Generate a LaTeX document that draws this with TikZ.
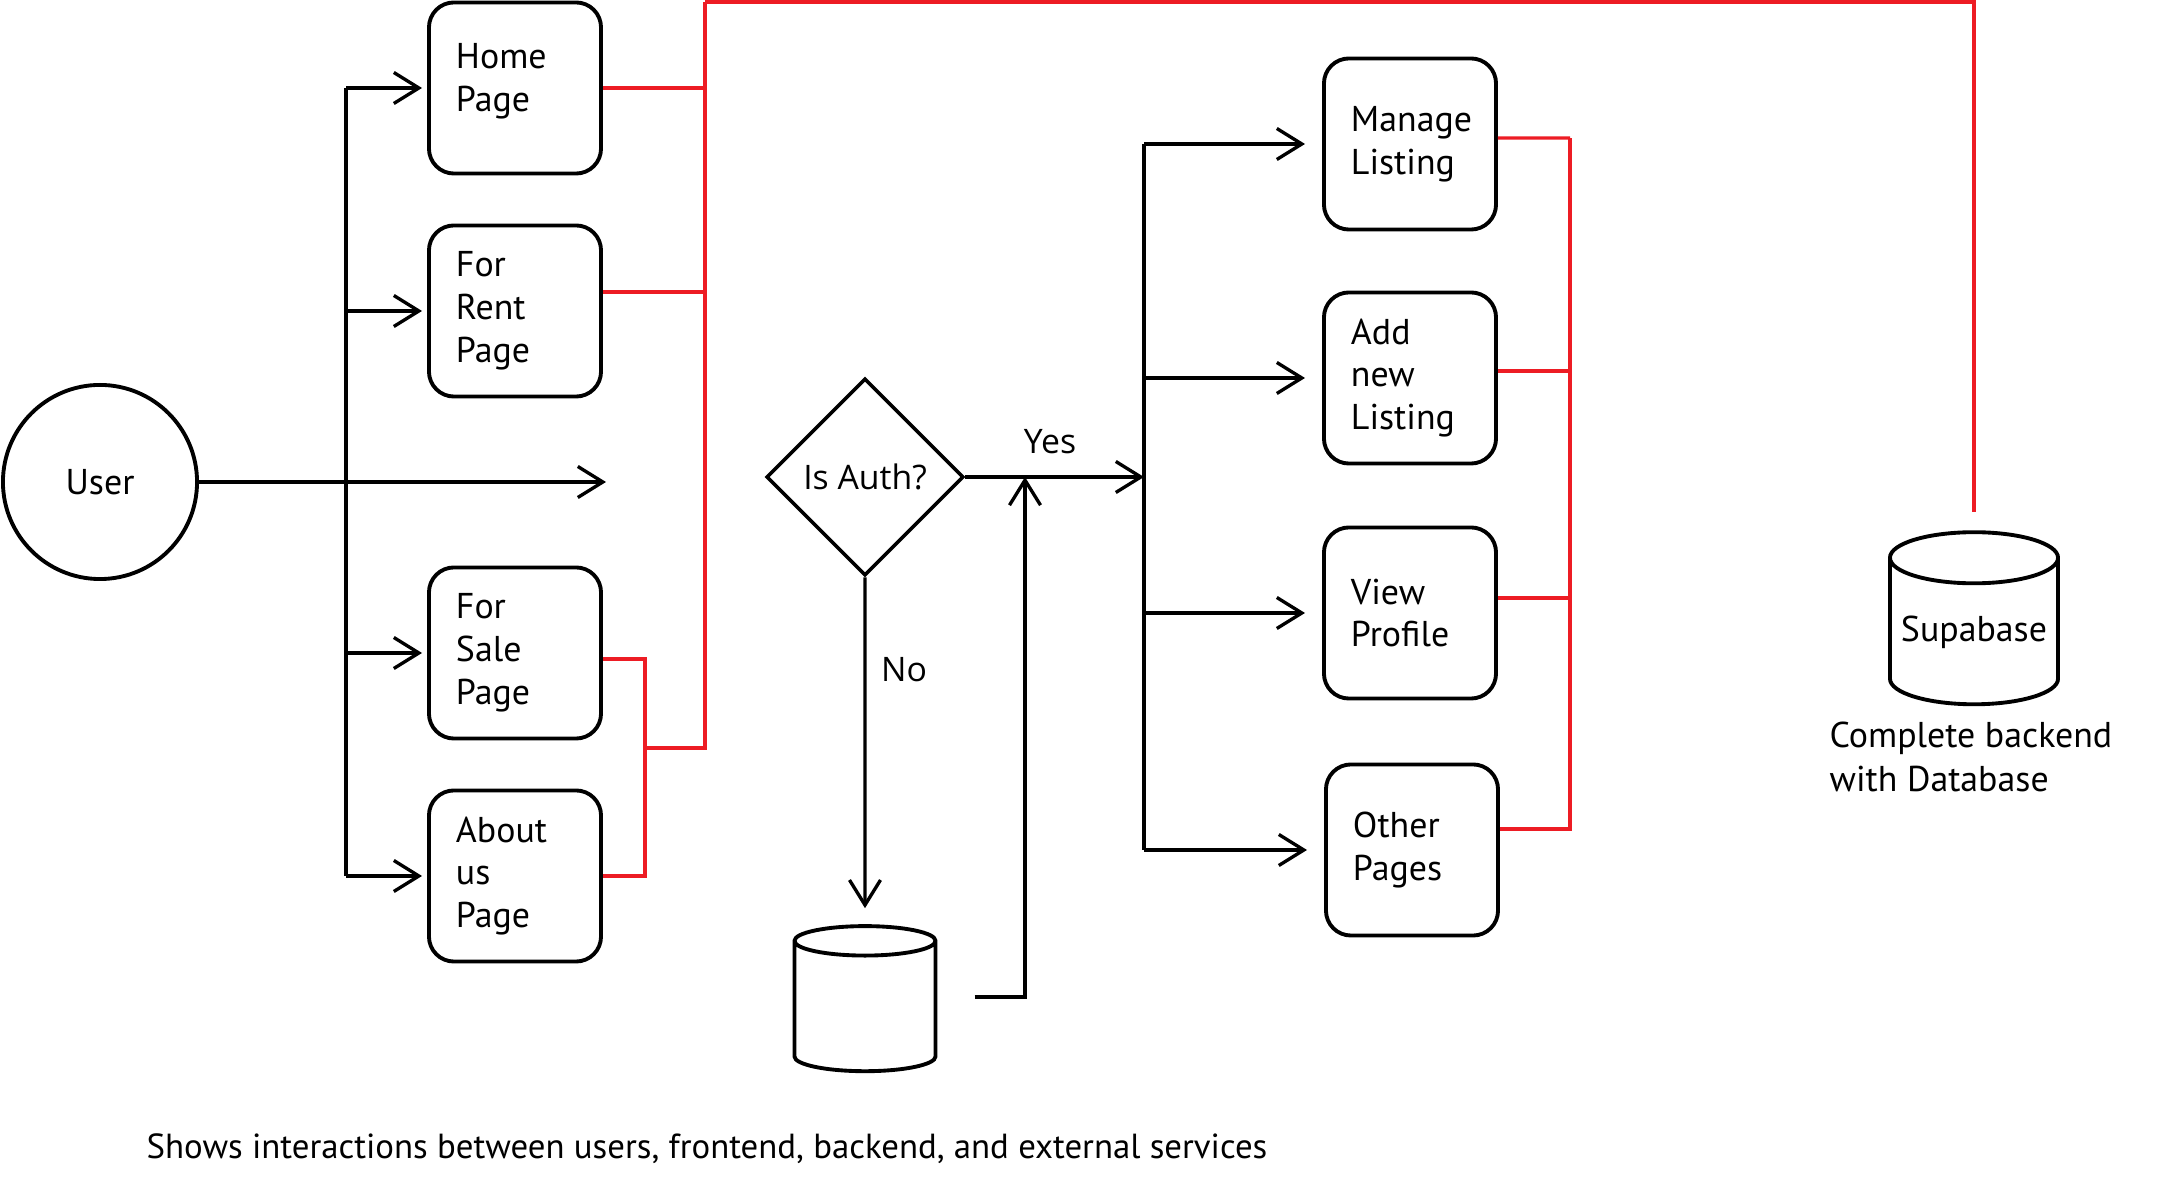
\documentclass[tikz,border=0pt]{standalone}
\usepackage{fontspec}
\setmainfont{PT Sans}
\newfontfamily\labelfont{Open Sans}
\usepackage{xcolor}
\usetikzlibrary{shapes.geometric,arrows.meta}
\definecolor{linkred}{RGB}{237,28,36}
\tikzset{
    page-box/.style = {draw, line width=1.1pt, rectangle, rounded corners=2.5mm, minimum width=1.72cm, minimum height=1.71cm, inner xsep=0.27cm, inner ysep=0pt, text width=1.18cm, align=left, font=\fontsize{10.2}{12.2}\selectfont},
    user-circle/.style = {draw, line width=1.1pt, circle, minimum size=1.94cm, inner sep=0pt, font=\fontsize{10.2}{12.2}\selectfont},
    decision/.style = {draw, line width=1pt, diamond, aspect=1, minimum width=1.97cm, minimum height=1.97cm, inner sep=0pt, font=\labelfont\fontsize{9.6}{11}\selectfont},
    store/.style = {draw, line width=1.1pt, cylinder, shape border rotate=90, aspect=0.35, inner sep=0pt, font=\fontsize{10.2}{12.2}\selectfont},
    flow-line/.style = {draw, line width=0.95pt},
    flow-arrow/.style = {flow-line, -{Straight Barb[length=2.5mm, width=3.1mm]}},
    red-link/.style = {draw=linkred, line width=0.9pt},
    flow-label/.style = {font=\labelfont\fontsize{9.6}{11}\selectfont},
    note-text/.style = {align=left, inner sep=0pt, font=\fontsize{10.2}{12.6}\selectfont},
}

\begin{document}
\begin{tikzpicture}[x=0.01cm, y=-0.01cm]
\useasboundingbox (0,0) rectangle (2171,1183);

% user and public pages
\node[user-circle] (user) at (100,482) {User};
\node[page-box] (home) at (515,88) {Home\\Page\\[-0.22cm]\mbox{}};
\node[page-box] (rent) at (515,311) {For\\Rent\\Page};
\node[page-box] (sale) at (515,653) {For\\Sale\\Page};
\node[page-box] (about) at (515,876) {About\\us\\Page};

\coordinate (split) at (346,482);
\coordinate (open-end) at (606,482);
\draw[flow-line] (split |- home.west) -- (split |- about.west);
\draw[flow-arrow] (user.east) -- (open-end);
\foreach \pg in {home,rent,sale,about}
    \draw[flow-arrow, shorten >=0.5mm] (split |- \pg.west) -- (\pg.west);

% auth check
\node[decision] (auth) at (865,477) {Is Auth?};
\node[store, minimum width=1.41cm, minimum height=1.45cm] (login) at (865,1007) {\phantom{Login}};
\coordinate (merge) at (1025,477);
\coordinate (fan) at (1144,477);
\draw[flow-arrow] (auth.east) -- (fan);
\draw[flow-arrow, shorten >=1.6mm] (auth.south) -- (login.north);
\draw[flow-arrow] ([xshift=3.7mm, yshift=1mm]login.east) -| (merge);
\node[flow-label] (yes) at (1050,442) {Yes};
\node[flow-label] (no) at (904,670) {No};

% private pages
\node[page-box] (manage) at (1410,144) {Manage\\Listing};
\node[page-box] (add) at (1410,378) {Add\\new\\Listing};
\node[page-box] (profile) at (1410,613) {View\\Profile};
\node[page-box] (other) at (1412,850) {Other\\Pages};

\draw[flow-line] (fan |- manage.west) -- (fan |- other.west);
\foreach \pg in {manage,add,profile,other}
    \draw[flow-arrow, shorten >=1.7mm] (fan |- \pg.west) -- (\pg.west);

% backend links
\node[store, minimum width=1.68cm, minimum height=1.72cm] (supa) at (1974,632) {Supabase};
\node[note-text, anchor=north west] (supa-note) at (1829,721) {Complete backend\\with Database};

\coordinate (bus) at (705,2);
\coordinate (sub-bus) at (645,748);
\coordinate (bus-right) at (1570,138);
\draw[red-link] (home.east) -| (bus);
\draw[red-link] ([yshift=1.9mm]rent.east) -| (bus);
\draw[red-link] ([yshift=-0.6mm]sale.east) -| (sub-bus);
\draw[red-link] (about.east) -| (sub-bus);
\draw[red-link] (sub-bus) -| (bus);
\draw[red-link] (bus) -| ([yshift=1.8mm]supa.north);
\draw[red-link] ([yshift=0.6mm]manage.east) -- (bus-right);
\draw[red-link] ([yshift=0.7mm]add.east) -| (bus-right);
\draw[red-link] ([yshift=1.5mm]profile.east) -| (bus-right);
\draw[red-link] ([yshift=2.1mm]other.east) -| (bus-right);

\node[note-text, font=\fontsize{9.9}{12}\selectfont] (caption) at (707,1149) {Shows interactions between users, frontend, backend, and external services};
\end{tikzpicture}
\end{document}
